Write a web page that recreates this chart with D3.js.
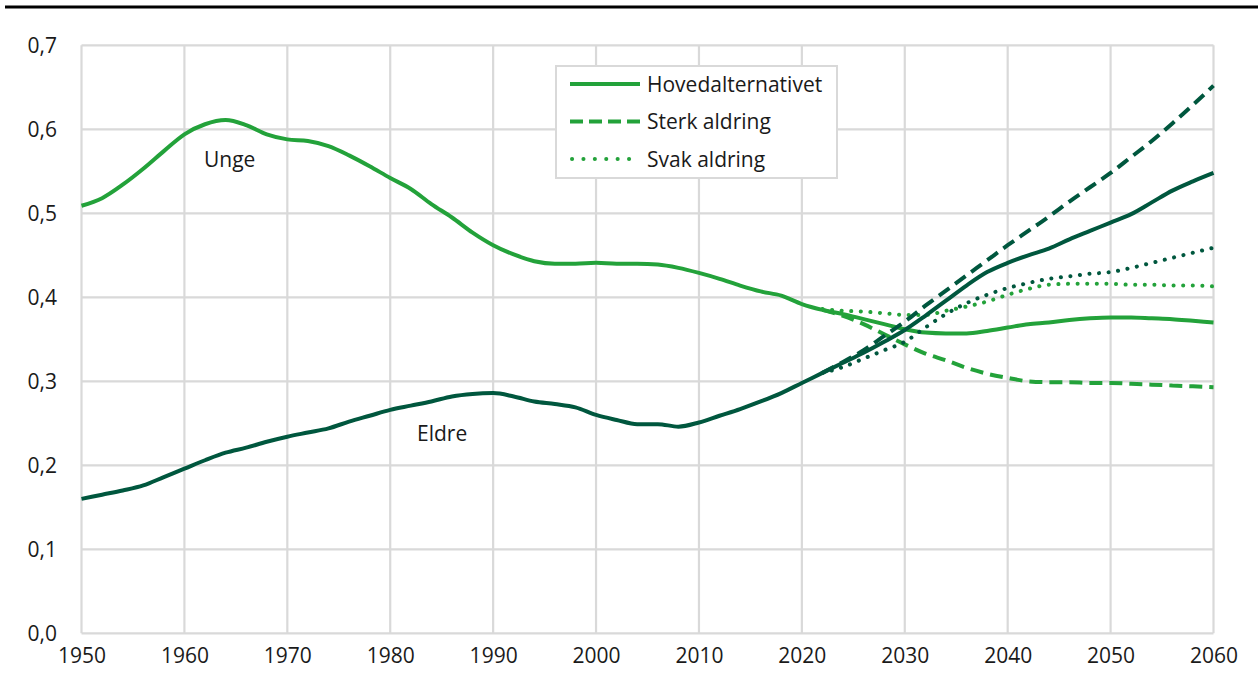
<!DOCTYPE html>
<html>
<head>
<meta charset="utf-8">
<script src="https://cdn.jsdelivr.net/npm/d3@7"></script>
<style>
    body { margin: 0; background: #fff; }
    svg { display: block; font-family: "Open Sans", sans-serif; }
</style>
</head>
<body>
<svg id="chart" width="1258" height="675"></svg>
<script>
// historical years (every second year)
const histYears = [1950, 1952, 1954, 1956, 1958, 1960, 1962, 1964, 1966, 1968, 1970, 1972, 1974,
    1976, 1978, 1980, 1982, 1984, 1986, 1988, 1990, 1992, 1994, 1996, 1998, 2000, 2002, 2004,
    2006, 2008, 2010, 2012, 2014, 2016, 2018, 2020, 2022];

const ungeHist = [0.509, 0.518, 0.534, 0.553, 0.574, 0.594, 0.606, 0.611, 0.605, 0.594, 0.588, 0.586, 0.580,
    0.569, 0.556, 0.542, 0.529, 0.511, 0.495, 0.477, 0.462, 0.451, 0.443, 0.440, 0.440, 0.441, 0.440, 0.440,
    0.439, 0.435, 0.429, 0.422, 0.414, 0.407, 0.402, 0.392, 0.385];

const eldreHist = [0.160, 0.165, 0.170, 0.176, 0.186, 0.196, 0.206, 0.215, 0.221, 0.228, 0.234, 0.239, 0.244,
    0.252, 0.259, 0.266, 0.271, 0.276, 0.282, 0.285, 0.286, 0.282, 0.276, 0.273, 0.269, 0.260, 0.254, 0.249,
    0.249, 0.246, 0.251, 0.259, 0.267, 0.276, 0.286, 0.298, 0.310];

// projections
const projYears = [2022, 2024, 2026, 2028, 2030, 2032, 2034, 2036, 2038, 2040, 2042, 2044, 2046, 2048,
    2050, 2052, 2054, 2056, 2058, 2060];

const ungeHoved = [0.385, 0.380, 0.374, 0.368, 0.362, 0.358, 0.357, 0.357, 0.360, 0.364, 0.368, 0.370, 0.373, 0.375,
    0.376, 0.376, 0.375, 0.374, 0.372, 0.370];
const ungeSterk = [0.385, 0.378, 0.368, 0.356, 0.344, 0.333, 0.325, 0.316, 0.309, 0.304, 0.300, 0.299, 0.299, 0.298,
    0.298, 0.297, 0.296, 0.295, 0.294, 0.293];
const ungeSvak = [0.386, 0.384, 0.383, 0.381, 0.379, 0.379, 0.384, 0.389, 0.395, 0.403, 0.410, 0.415, 0.416, 0.416,
    0.416, 0.415, 0.415, 0.414, 0.414, 0.413];

const eldreHoved = [0.310, 0.322, 0.334, 0.347, 0.361, 0.378, 0.396, 0.414, 0.430, 0.441, 0.450, 0.458, 0.469, 0.479,
    0.489, 0.499, 0.513, 0.527, 0.538, 0.548];
const eldreSterk = [0.310, 0.323, 0.337, 0.354, 0.371, 0.390, 0.408, 0.426, 0.444, 0.462, 0.479, 0.496, 0.514, 0.531,
    0.548, 0.567, 0.586, 0.607, 0.629, 0.652];
const eldreSvak = [0.310, 0.317, 0.327, 0.337, 0.347, 0.364, 0.380, 0.393, 0.403, 0.411, 0.417, 0.422, 0.425, 0.428,
    0.430, 0.435, 0.441, 0.447, 0.453, 0.459];

const xTicks = [1950, 1960, 1970, 1980, 1990, 2000, 2010, 2020, 2030, 2040, 2050, 2060];
const yTicks = [0, 0.1, 0.2, 0.3, 0.4, 0.5, 0.6, 0.7];
const legendLabels = ["Hovedalternativet", "Sterk aldring", "Svak aldring"];

const lightGreen = "#23a23a";
const darkGreen = "#00573e";
const gridColor = "#d9d9d9";
const textColor = "#1a1a1a";
const fontSize = 21;
const dashes = { solid: null, dashed: "13,7", dotted: "0.1,9.5" };

let svg = d3.select("#chart");

let x = d3.scaleLinear().domain([1950, 2060]).range([81.5, 1213.5]);
let y = d3.scaleLinear().domain([0, 0.7]).range([633.3, 45.3]);

// black rule at top
svg.append("line")
    .attr("x1", 5).attr("x2", 1258)
    .attr("y1", 7).attr("y2", 7)
    .attr("stroke", "#000").attr("stroke-width", 3);

// gridlines
svg.append("g").selectAll("line")
    .data(yTicks).enter().append("line")
    .attr("x1", x(1950)).attr("x2", x(2060))
    .attr("y1", d => y(d)).attr("y2", d => y(d))
    .attr("stroke", gridColor).attr("stroke-width", 2.2);

svg.append("g").selectAll("line")
    .data(xTicks).enter().append("line")
    .attr("x1", d => x(d)).attr("x2", d => x(d))
    .attr("y1", y(0)).attr("y2", y(0.7))
    .attr("stroke", gridColor).attr("stroke-width", 2.2);

// axes (labels only)
let yAxis = d3.axisLeft(y).tickValues(yTicks).tickSize(0).tickPadding(0)
    .tickFormat(d => d3.format(".1f")(d).replace(".", ","));
let gy = svg.append("g").attr("transform", "translate(57,0)").call(yAxis);
gy.select(".domain").remove();
gy.selectAll("text").attr("font-size", fontSize).attr("fill", textColor)
    .attr("font-family", "Open Sans").attr("dy", "0.36em");

let xAxis = d3.axisBottom(x).tickValues(xTicks).tickSize(0).tickPadding(0)
    .tickFormat(d3.format("d"));
let gx = svg.append("g").attr("transform", "translate(0,648)").call(xAxis);
gx.select(".domain").remove();
gx.selectAll("text").attr("font-size", fontSize).attr("fill", textColor)
    .attr("font-family", "Open Sans");

// series
let line = d3.line()
    .x(d => x(d[0]))
    .y(d => y(d[1]))
    .curve(d3.curveMonotoneX);

const zip = (years, vals) => years.map((yr, i) => [yr, vals[i]]);

let series = [
    {values: zip(projYears, ungeSterk), color: lightGreen, style: "dashed"},
    {values: zip(projYears, ungeSvak), color: lightGreen, style: "dotted"},
    {values: zip(histYears, ungeHist).concat(zip(projYears, ungeHoved).slice(1)), color: lightGreen, style: "solid"},
    {values: zip(projYears, eldreSterk), color: darkGreen, style: "dashed"},
    {values: zip(projYears, eldreSvak), color: darkGreen, style: "dotted"},
    {values: zip(histYears, eldreHist).concat(zip(projYears, eldreHoved).slice(1)), color: darkGreen, style: "solid"}
];

svg.append("g").selectAll("path")
    .data(series).enter().append("path")
    .attr("d", d => line(d.values))
    .attr("fill", "none")
    .attr("stroke", d => d.color)
    .attr("stroke-width", 4)
    .attr("stroke-dasharray", d => dashes[d.style])
    .attr("stroke-linecap", d => d.style === "dotted" ? "round" : "butt")
    .attr("stroke-linejoin", "round");

// in-plot labels
svg.append("text").text("Unge")
    .attr("x", 204).attr("y", 167)
    .attr("font-size", fontSize).attr("fill", textColor);
svg.append("text").text("Eldre")
    .attr("x", 417).attr("y", 441)
    .attr("font-size", fontSize).attr("fill", textColor);

// legend
let legend = svg.append("g");
legend.append("rect")
    .attr("x", 556).attr("y", 66)
    .attr("width", 281).attr("height", 112)
    .attr("fill", "#fff")
    .attr("stroke", gridColor).attr("stroke-width", 2);

let item = legend.selectAll("g.item")
    .data(legendLabels).enter().append("g")
    .attr("class", "item")
    .attr("transform", (d, i) => `translate(0,${84 + i * 37.5})`);

item.append("line")
    .attr("x1", (d, i) => i === 2 ? 572 : 570)
    .attr("x2", 640)
    .attr("stroke", lightGreen).attr("stroke-width", 4)
    .attr("stroke-dasharray", (d, i) => i === 1 ? "13,6" : (i === 2 ? "0.1,11.3" : null))
    .attr("stroke-linecap", (d, i) => i === 2 ? "round" : "butt");

item.append("text").text(d => d)
    .attr("x", 647).attr("dy", "0.36em")
    .attr("font-size", fontSize).attr("fill", textColor);
</script>
</body>
</html>
